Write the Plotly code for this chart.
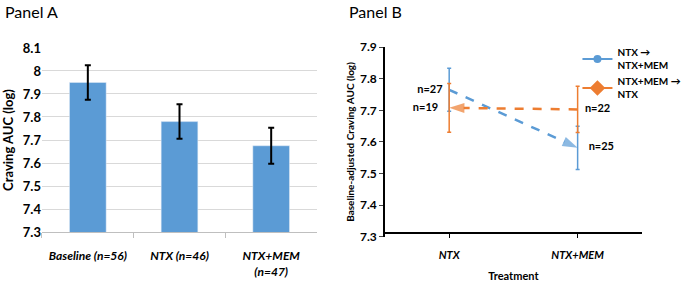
import plotly.graph_objects as go

# Panel A data
cats_a = ["Baseline (n=56)", "NTX (n=46)", "NTX+MEM<br>(n=47)"]
vals_a = [7.95, 7.78, 7.675]
err_a = [0.075, 0.075, 0.078]

# Panel B data
cats_b = ["NTX", "NTX+MEM"]
blue_vals = [7.765, 7.582]
blue_err_plus = [0.068, 0.068]
blue_err_minus = [0.068, 0.069]
blue_labels = ["n=27", "n=25"]
orange_vals = [7.708, 7.703]
orange_err = [0.077, 0.073]
orange_labels = ["n=19", "n=22"]

BLUE = "#5B9BD5"
ORANGE = "#ED7D31"
FONT = "Lato"

fig = go.Figure()

fig.add_trace(go.Bar(
    x=cats_a, y=vals_a, marker_color=BLUE, width=0.4, showlegend=False,
    error_y=dict(type="data", array=err_a, color="black", thickness=2, width=3),
    xaxis="x", yaxis="y",
))

# Panel B lines
fig.add_trace(go.Scatter(
    x=cats_b, y=blue_vals, mode="lines+markers+text",
    line=dict(color=BLUE, dash="dash", width=2.5),
    marker=dict(symbol=["circle", "arrow"], size=[9, 16], color=BLUE, angleref="previous",
                line=dict(width=0)),
    text=blue_labels, textposition=["middle left", "middle right"],
    textfont=dict(size=11, color="black", family=FONT, weight="bold"),
    error_y=dict(type="data", array=blue_err_plus, arrayminus=blue_err_minus, color=BLUE, thickness=1.5, width=2),
    showlegend=False, xaxis="x2", yaxis="y2",
))
fig.add_trace(go.Scatter(
    x=cats_b[::-1], y=orange_vals[::-1], mode="lines+markers+text",
    line=dict(color=ORANGE, dash="dash", width=2.5),
    marker=dict(symbol=["diamond", "arrow"], size=[10, 16], color=ORANGE, angleref="previous",
                line=dict(width=0)),
    text=orange_labels[::-1], textposition=["middle right", "middle left"],
    textfont=dict(size=11, color="black", family=FONT, weight="bold"),
    error_y=dict(type="data", array=orange_err[::-1], color=ORANGE, thickness=1.5, width=2),
    showlegend=False, xaxis="x2", yaxis="y2",
))
# legend entries
fig.add_trace(go.Scatter(
    x=[None], y=[None], mode="lines+markers", name="NTX →<br>NTX+MEM",
    line=dict(color=BLUE, width=2), marker=dict(symbol="circle", size=8, color=BLUE),
    xaxis="x2", yaxis="y2",
))
fig.add_trace(go.Scatter(
    x=[None], y=[None], mode="lines+markers", name="NTX+MEM →<br>NTX",
    line=dict(color=ORANGE, width=2), marker=dict(symbol="diamond", size=12, color=ORANGE),
    xaxis="x2", yaxis="y2",
))

fig.update_layout(
    width=685, height=282,
    margin=dict(l=0, r=0, t=0, b=0, autoexpand=False),
    paper_bgcolor="white", plot_bgcolor="white",
    font=dict(family=FONT, color="black"),
    xaxis=dict(domain=[0.0613, 0.4628], showline=True, linecolor="#BFBFBF",
               ticks="outside", tickson="boundaries", tickcolor="#BFBFBF", ticklen=5,
               tickangle=0, automargin=False, ticklabelstandoff=13,
               tickfont=dict(size=12, family=FONT, weight="bold", style="italic"), showgrid=False),
    yaxis=dict(domain=[0.177, 0.830], range=[7.3, 8.1], dtick=0.1, automargin=False,
               showgrid=True, gridcolor="#D9D9D9", zeroline=False,
               tickfont=dict(size=13, family=FONT, weight="bold"),
               title=dict(text="Craving AUC (log)", font=dict(size=13, family=FONT, weight="bold"), standoff=6)),
    xaxis2=dict(domain=[0.562, 0.937], showline=True, linecolor="black", linewidth=1.5,
                ticks="outside", tickcolor="black", ticklen=4, range=[-0.5, 1.5],
                tickangle=0, automargin=False, ticklabelstandoff=8,
                tickfont=dict(size=11, family=FONT, weight="bold", style="italic"), showgrid=False,
                title=dict(text="Treatment", font=dict(size=11, family=FONT, weight="bold"), standoff=12)),
    yaxis2=dict(domain=[0.160, 0.833], range=[7.3, 7.9], dtick=0.1, anchor="x2",
                showline=True, linecolor="black", linewidth=1.5, ticks="outside", ticklen=4,
                showgrid=False, zeroline=False, automargin=False,
                tickfont=dict(size=12, family=FONT, weight="bold"),
                title=dict(text="Baseline-adjusted Craving AUC (log)", font=dict(size=10, family=FONT, weight="bold"), standoff=4)),
    legend=dict(x=0.843, y=0.86, xanchor="left", yanchor="top", font=dict(size=10, family=FONT, weight="bold"),
                bgcolor="rgba(0,0,0,0)", tracegroupgap=4, itemwidth=30),
    annotations=[
        dict(text="Panel A", x=0.005, y=1.0, xref="paper", yref="paper", xanchor="left", yanchor="top",
             showarrow=False, font=dict(size=16, family=FONT)),
        dict(text="Panel B", x=0.507, y=1.0, xref="paper", yref="paper", xanchor="left", yanchor="top",
             showarrow=False, font=dict(size=16, family=FONT)),
    ],
)

fig.write_html("out.html", config={"displayModeBar": False},
               post_script="document.body.style.margin='0px';")
